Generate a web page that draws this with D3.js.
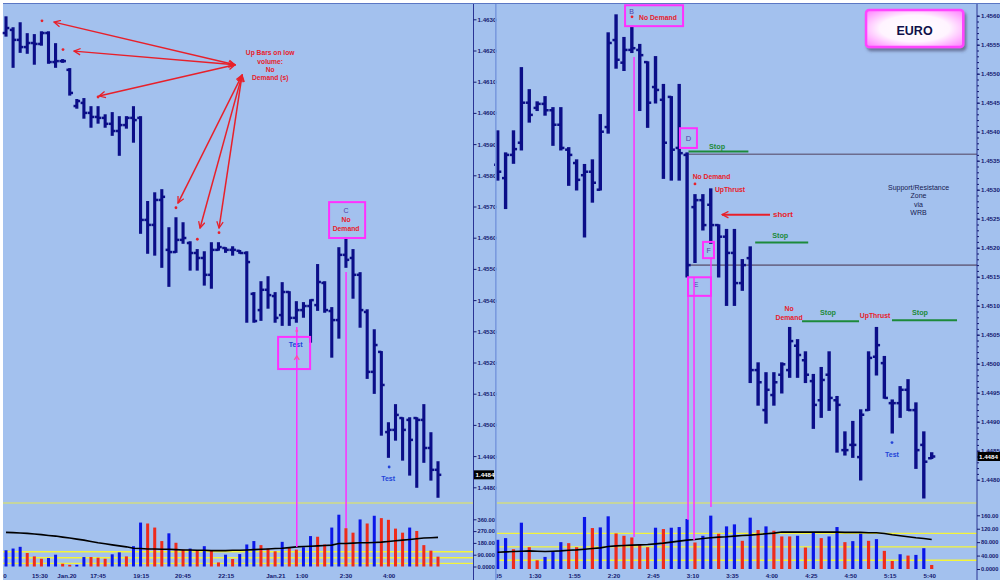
<!DOCTYPE html>
<html><head><meta charset="utf-8">
<script src="https://cdn.jsdelivr.net/npm/d3@7/dist/d3.min.js"></script>
<style>
html,body{margin:0;padding:0;background:#fff;}
svg{display:block;}
text{font-family:"Liberation Sans",Arial,Helvetica,sans-serif;}
</style></head><body>
<svg id="chart" width="1000" height="583"></svg>
<script>
// ---------------- LEFT PANEL DATA (15-min bars) ----------------
const leftOpen=[1.46256,1.46266,1.46234,1.46211,1.46224,1.46221,1.46256,1.46163,1.46166,1.46138,
1.46022,1.46032,1.46000,1.45987,1.45984,1.45965,1.45942,1.45961,1.45984,1.45984,
1.45657,1.45641,1.45721,1.45561,1.45554,1.45593,1.45583,1.45551,1.45535,1.45481,
1.45561,1.45567,1.45561,1.45558,1.45551,1.45420,1.45368,1.45433,1.45413,1.45352,
1.45426,1.45343,1.45368,1.45381,1.45384,1.45455,1.45365,1.45336,1.45545,1.45535,
1.45481,1.45362,1.45170,1.45234,1.44977,1.44984,1.45022,1.45016,1.45022,1.45016,
1.44926,1.44856];
const leftHigh=[1.46307,1.46272,1.46288,1.46253,1.46250,1.46259,1.46259,1.46221,1.46170,1.46141,
1.46042,1.46045,1.46019,1.46019,1.45993,1.46000,1.45987,1.45987,1.46019,1.45987,
1.45715,1.45743,1.45753,1.45631,1.45663,1.45647,1.45586,1.45561,1.45554,1.45583,
1.45583,1.45567,1.45570,1.45558,1.45554,1.45423,1.45458,1.45474,1.45423,1.45455,
1.45426,1.45394,1.45391,1.45400,1.45513,1.45458,1.45375,1.45567,1.45599,1.45561,
1.45487,1.45368,1.45304,1.45234,1.45006,1.45064,1.45022,1.45022,1.45022,1.45064,
1.44974,1.44881];
const leftLow=[1.46247,1.46147,1.46195,1.46192,1.46157,1.46218,1.46160,1.46147,1.46163,1.46058,
1.46016,1.45984,1.45955,1.45968,1.45955,1.45929,1.45865,1.45952,1.45907,1.45615,
1.45551,1.45545,1.45506,1.45445,1.45554,1.45583,1.45497,1.45497,1.45449,1.45439,
1.45561,1.45554,1.45545,1.45551,1.45330,1.45330,1.45336,1.45375,1.45330,1.45320,
1.45320,1.45330,1.45346,1.45266,1.45368,1.45362,1.45218,1.45279,1.45506,1.45407,
1.45314,1.45150,1.45102,1.44968,1.44897,1.44952,1.44888,1.44840,1.44801,1.44881,
1.44824,1.44769];
const leftClose=[1.46272,1.46234,1.46211,1.46224,1.46221,1.46256,1.46163,1.46166,1.46166,1.46064,
1.46038,1.46000,1.45987,1.45984,1.45965,1.45942,1.45961,1.45984,1.45977,1.45657,
1.45641,1.45721,1.45731,1.45554,1.45593,1.45599,1.45551,1.45535,1.45481,1.45561,
1.45570,1.45561,1.45561,1.45551,1.45522,1.45333,1.45433,1.45416,1.45343,1.45426,
1.45343,1.45368,1.45381,1.45400,1.45458,1.45368,1.45336,1.45545,1.45529,1.45481,
1.45368,1.45170,1.45256,1.45128,1.44984,1.45032,1.44984,1.44952,1.45016,1.44926,
1.44856,1.44840];
const leftVolume=[124,137,150,103,77,59,65,90,21,13,
13,72,72,67,59,93,108,77,155,335,
328,297,194,253,181,129,137,121,155,121,
31,90,57,95,168,194,163,137,116,188,
142,129,147,232,227,168,297,395,292,258,
359,328,387,369,356,289,258,297,271,163,
121,75];
const leftVolDir=("bbbrrrbbrr"+"bbrrrbbrbb"+"rrrbrrbrbr"+"rbrbbbrrrb"+"rrbbrrbbrr"+"brbrrrrbrr"+"rr").split("");
const leftVolAvg=[260,258,255,253,248,243,237,232,224,217,
209,201,191,181,173,165,157,150,139,137,
134,134,132,132,129,126,126,124,124,121,
121,121,124,124,126,129,132,134,137,139,
144,150,152,155,157,160,163,175,175,178,
181,181,183,186,191,196,201,206,212,217,
219,222];
const leftVolLevels=[113,67,24];
const leftPriceTicks=[1.4480,1.4490,1.4500,1.4510,1.4520,1.4530,1.4540,1.4550,1.4560,1.4570,1.4580,1.4590,1.4600,1.4610,1.4620,1.4630];
const leftVolTicks=[0,90,180,270,360];
const leftTimeLabels=["0","15:30","Jan.20","17:45","19:15","20:45","22:15","Jan.21","1:00","2:30","4:00"];
const leftTimeIdx=[-0.15,4.8,8.6,13,19.1,25,31.1,38.1,41.8,48,54.1];

// ---------------- RIGHT PANEL DATA (5-min bars) ----------------
const rightOpen=[1.45343,1.45320,1.45360,1.45381,1.45450,1.45441,1.45448,1.45437,1.45412,1.45369,
1.45346,1.45325,1.45331,1.45300,1.45408,1.45558,1.45519,1.45541,1.45541,1.45520,
1.45477,1.45455,1.45460,1.45372,1.45360,1.45270,1.45282,1.45274,1.45239,1.45219,
1.45191,1.45139,1.45182,1.44989,1.44920,1.44946,1.44981,1.44989,1.45031,1.45006,
1.44970,1.44937,1.44981,1.44937,1.44851,1.44860,1.44839,1.44920,1.45012,1.45001,
1.44932,1.44932,1.44955,1.44920,1.44860,1.44837];
const rightHigh=[1.45401,1.45363,1.45401,1.45510,1.45472,1.45451,1.45460,1.45441,1.45441,1.45372,
1.45351,1.45343,1.45351,1.45429,1.45570,1.45601,1.45562,1.45581,1.45550,1.45520,
1.45529,1.45481,1.45460,1.45481,1.45363,1.45291,1.45291,1.45301,1.45239,1.45231,
1.45231,1.45179,1.45201,1.45001,1.44984,1.44984,1.45001,1.45062,1.45041,1.45020,
1.44981,1.44993,1.45020,1.44943,1.44882,1.44900,1.44920,1.45020,1.45062,1.45012,
1.44937,1.44960,1.44972,1.44932,1.44882,1.44846];
const rightLow=[1.45317,1.45268,1.45346,1.45369,1.45417,1.45437,1.45429,1.45377,1.45369,1.45308,
1.45300,1.45219,1.45279,1.45300,1.45398,1.45510,1.45506,1.45537,1.45437,1.45408,
1.45450,1.45320,1.45317,1.45317,1.45150,1.45175,1.45231,1.45208,1.45150,1.45101,
1.45101,1.45127,1.44968,1.44929,1.44898,1.44929,1.44950,1.44977,1.44977,1.44968,
1.44889,1.44908,1.44920,1.44848,1.44843,1.44839,1.44800,1.44920,1.44981,1.44941,
1.44881,1.44908,1.44920,1.44820,1.44769,1.44837];
const rightClose=[1.45331,1.45360,1.45370,1.45450,1.45429,1.45448,1.45437,1.45412,1.45372,1.45360,
1.45317,1.45331,1.45312,1.45400,1.45553,1.45524,1.45541,1.45544,1.45532,1.45450,
1.45472,1.45381,1.45369,1.45363,1.45170,1.45282,1.45239,1.45239,1.45219,1.45191,
1.45139,1.45170,1.44989,1.44968,1.44955,1.44968,1.44999,1.45039,1.45015,1.44981,
1.44929,1.44972,1.44941,1.44929,1.44851,1.44860,1.44912,1.45010,1.45032,1.44941,
1.44932,1.44955,1.44920,1.44851,1.44831,1.44840];
const rightVolume=[87,92,59,138,65,26,36,52,80,77,
65,155,122,124,157,106,99,94,74,65,
123,119,123,125,149,79,99,159,105,127,
133,84,153,116,127,114,97,97,99,64,
108,92,97,125,80,83,105,84,89,54,
24,44,40,42,62,12];
const rightVolDir=("bbrbrrbbbr"+"rbrbbrrrrr"+"brbbbrbbrb"+"brbrbrrrbr"+"brbbrbbrbr"+"rbrbbr").split("");
const rightVolAvg=[50,51,52,53,54,53,52,53,54,56,57,59,61,63,67,69,70,71,72,73,75,77,80,83,86,88,91,93,95,96,98,100,101,103,105,107,110,
110,110,110,110,110,110,110,109,109,109,108,108,106,102,99,96,93,91,88];
const rightVolLevels=[106,66,26];
const rightPriceTicks=[1.4480,1.4485,1.4490,1.4495,1.4500,1.4505,1.4510,1.4515,1.4520,1.4525,1.4530,1.4535,1.4540,1.4545,1.4550,1.4555,1.4560];
const rightVolTicks=[0,40,80,120,160];
const rightTimeLabels=["1:05","1:30","1:55","2:20","2:45","3:10","3:35","4:00","4:25","4:50","5:15","5:40"];
const rightTimeIdx=[0,5,10,15,20,25,30,35,40,45,50,55];
const lastPrice=1.4484;

// ---------------- DRAWING ----------------
const svg=d3.select('#chart');
const BG='#a3c1ee',NAVY='#0b0e88',VBLUE='#0a16e8',VRED='#ee2b1c',MAG='#ff30ff',RED='#e8202a',GREEN='#1c8a3a',AX='#141a70',PURP='#5040a8',TBLUE='#2444d8';

svg.append('rect').attr('width',1000).attr('height',583).attr('fill','#fff');
svg.append('rect').attr('x',3).attr('y',4).attr('width',997).attr('height',576).attr('fill',BG);
svg.append('line').attr('x1',3).attr('x2',1000).attr('y1',3.5).attr('y2',3.5).attr('stroke','#5b77c4').attr('stroke-width',1);

const defs=svg.append('defs');
defs.append('marker').attr('id','arr').attr('viewBox','0 0 10 10').attr('refX',9).attr('refY',5)
  .attr('markerWidth',8).attr('markerHeight',8).attr('markerUnits','userSpaceOnUse').attr('orient','auto-start-reverse')
  .append('path').attr('d','M1,1 L9,5 L1,9').attr('fill','none').attr('stroke',RED).attr('stroke-width',1.6);
defs.append('clipPath').attr('id','rclip').append('rect').attr('x',496.5).attr('y',0).attr('width',504).attr('height',583);
const rg=defs.append('radialGradient').attr('id','euroGrad').attr('cx','50%').attr('cy','50%').attr('r','65%');
rg.append('stop').attr('offset','0%').attr('stop-color','#ffffff');
rg.append('stop').attr('offset','55%').attr('stop-color','#fff4ff');
rg.append('stop').attr('offset','100%').attr('stop-color','#ff8cff');
const fl=defs.append('filter').attr('id','sh').attr('x','-20%').attr('y','-20%').attr('width','150%').attr('height','160%');
fl.append('feDropShadow').attr('dx',2).attr('dy',3).attr('stdDeviation',1.5).attr('flood-color','#404060').attr('flood-opacity',0.6);

function drawPanel(P){
  const g=svg.append('g');
  const n=P.open.length;
  const x=d3.scaleLinear().domain([0,n-1]).range(P.xRange);
  const y=d3.scaleLinear().domain([1.4480,P.pTop]).range(P.pRange);
  const yv=d3.scaleLinear().domain([0,P.vTop]).range(P.vRange);
  g.append('line').attr('x1',P.plotX[0]).attr('x2',P.plotX[1]).attr('y1',503).attr('y2',503).attr('stroke','#e8ea50').attr('stroke-width',1.2);
  g.selectAll('line.lvl').data(P.levels).join('line').attr('class','lvl')
    .attr('x1',P.plotX[0]).attr('x2',P.plotX[1]).attr('y1',d=>yv(d)).attr('y2',d=>yv(d))
    .attr('stroke','#f4f43a').attr('stroke-width',1.4);
  g.selectAll('rect.vb').data(P.vol).join('rect').attr('class','vb')
    .attr('x',(d,i)=>x(i)-P.vw/2).attr('y',d=>yv(d)).attr('width',P.vw).attr('height',d=>yv(0)-yv(d))
    .attr('fill',(d,i)=>P.dir[i]==='b'?VBLUE:VRED);
  g.append('path').datum(P.ma).attr('d',d3.line().x((d,i)=>x(i)).y(d=>yv(d)))
    .attr('fill','none').attr('stroke','#000').attr('stroke-width',1.6);
  if(P.before) P.before(g,x,y,yv);
  const bd=P.open.map((v,i)=>({i,o:v,h:P.high[i],l:P.low[i],c:P.close[i]}));
  const bars=g.selectAll('g.bar').data(bd).join('g').attr('class','bar');
  bars.append('line').attr('x1',d=>x(d.i)).attr('x2',d=>x(d.i))
    .attr('y1',d=>y(d.h)-0.8).attr('y2',d=>y(d.l)+0.8).attr('stroke',NAVY).attr('stroke-width',P.bw);
  bars.append('line').attr('x1',d=>x(d.i)-P.tk).attr('x2',d=>x(d.i)).attr('y1',d=>y(d.o)).attr('y2',d=>y(d.o))
    .attr('stroke',NAVY).attr('stroke-width',2.5);
  bars.append('line').attr('x1',d=>x(d.i)).attr('x2',d=>x(d.i)+P.tk).attr('y1',d=>y(d.c)).attr('y2',d=>y(d.c))
    .attr('stroke',NAVY).attr('stroke-width',2.5);
  g.append('line').attr('x1',P.axisX).attr('x2',P.axisX).attr('y1',4).attr('y2',580).attr('stroke','#2a3494').attr('stroke-width',1);
  const pa=g.append('g').attr('transform',`translate(${P.axisX},0)`)
    .call(d3.axisRight(y).tickValues(P.pTicks).tickFormat(d3.format('.4f')).tickSize(3).tickPadding(1));
  if(P.minor){
    const mn=d3.range(14480,Math.round(P.pTop*10000)+1).map(v=>v/10000);
    g.append('g').attr('transform',`translate(${P.axisX},0)`)
      .call(d3.axisRight(y).tickValues(mn).tickFormat('').tickSize(2))
      .call(s=>{s.select('.domain').remove();s.selectAll('line').attr('stroke',AX);});
  }
  const va=g.append('g').attr('transform',`translate(${P.axisX},0)`)
    .call(d3.axisRight(yv).tickValues(P.vTicks).tickFormat(v=>v.toPrecision(5)).tickSize(3).tickPadding(1));
  [pa,va].forEach(a=>{
    a.select('.domain').remove();
    a.attr('font-family','"Liberation Sans",Arial,sans-serif').attr('font-size',6.2).attr('font-weight','bold');
    a.selectAll('line').attr('stroke',AX);
    a.selectAll('text').attr('fill',AX);
  });
  va.selectAll('text').attr('font-size',5.7);
  const tg=g.append('g'); if(P.clip) tg.attr('clip-path','url(#'+P.clip+')');
  tg.selectAll('text').data(P.tLabels).join('text')
    .attr('x',(d,i)=>x(P.tIdx[i])-2).attr('y',578).attr('text-anchor','middle')
    .attr('font-size',6.2).attr('font-weight','bold').attr('fill',AX).text(d=>d);
  g.append('rect').attr('x',P.axisX+0.5).attr('y',y(lastPrice)-4.5).attr('width',P.boxW).attr('height',9).attr('fill','#000');
  g.append('text').attr('x',P.axisX+2).attr('y',y(lastPrice)+2.2).attr('font-size',6.2).attr('font-weight','bold')
    .attr('fill','#fff').text(d3.format('.4f')(lastPrice));
  return {x,y,yv};
}

const L=drawPanel({open:leftOpen,high:leftHigh,low:leftLow,close:leftClose,vol:leftVolume,dir:leftVolDir,ma:leftVolAvg,
  levels:leftVolLevels,pTicks:leftPriceTicks,vTicks:leftVolTicks,tLabels:leftTimeLabels,tIdx:leftTimeIdx.map(v=>v+0.28),
  xRange:[6,438],pTop:1.4630,pRange:[487.3,19.3],vTop:360,vRange:[566.5,519.3],plotX:[3,473],axisX:473.5,
  vw:3,bw:3.1,tk:3.3,boxW:20,minor:false});

const R=drawPanel({open:rightOpen,high:rightHigh,low:rightLow,close:rightClose,vol:rightVolume,dir:rightVolDir,ma:rightVolAvg,
  levels:rightVolLevels,pTicks:rightPriceTicks,vTicks:rightVolTicks,tLabels:rightTimeLabels,tIdx:rightTimeIdx,
  xRange:[497.7,931.7],pTop:1.4560,pRange:[479.7,15.7],vTop:160,vRange:[569,515.3],plotX:[497,977],axisX:977,
  vw:3.2,bw:3.4,tk:3.6,boxW:23,minor:true,clip:'rclip',
  before:(g,x,y)=>{
    [1.45361,1.45170].forEach(p=>g.append('line').attr('x1',x(24.18)).attr('x2',977).attr('y1',y(p)).attr('y2',y(p))
      .attr('stroke','#6c6c8e').attr('stroke-width',1.6));
  }});

svg.append('rect').attr('x',495).attr('y',4).attr('width',1.6).attr('height',576).attr('fill','#7a9ade');

function txt(x,y,s,fill,size,weight,anchor){
  svg.append('text').attr('x',x).attr('y',y).attr('fill',fill).attr('font-size',size)
    .attr('font-weight',weight||'bold').attr('text-anchor',anchor||'middle').text(s);
}
function box(S,i0,i1,p0,p1,w){
  svg.append('rect').attr('x',S.x(i0)).attr('y',S.y(p0)).attr('width',S.x(i1)-S.x(i0)).attr('height',S.y(p1)-S.y(p0))
    .attr('fill','none').attr('stroke',MAG).attr('stroke-width',w||2);
}
function vline(S,i,p,v){
  svg.append('line').attr('x1',S.x(i)).attr('x2',S.x(i)).attr('y1',S.y(p)).attr('y2',S.yv(v)).attr('stroke',MAG).attr('stroke-width',1.5);
}
function dot(S,i,p,c){svg.append('circle').attr('cx',S.x(i)).attr('cy',S.y(p)).attr('r',1.4).attr('fill',c);}
function hline(S,i0,i1,p,c,w){svg.append('line').attr('x1',S.x(i0)).attr('x2',S.x(i1)).attr('y1',S.y(p)).attr('y2',S.y(p)).attr('stroke',c).attr('stroke-width',w);}

// -------- left annotations --------
const noteL=["Up Bars on low","volume:","No","Demand (s)"];
const noteLp=[1.46186,1.46158,1.46131,1.46104];
noteL.forEach((s,k)=>txt(L.x(37.3),L.y(noteLp[k]),s,RED,6.7));
const arrowsL=[[32.34,1.46154,6.78,1.46291],[32.34,1.46154,9.6,1.46198],[32.34,1.46154,13.14,1.46054],
  [33.33,1.46121,24.29,1.45711],[33.33,1.46121,27.4,1.45631],[33.33,1.46121,30.08,1.45631]];
arrowsL.forEach(a=>svg.append('line').attr('x1',L.x(a[0])).attr('y1',L.y(a[1])).attr('x2',L.x(a[2])).attr('y2',L.y(a[3]))
  .attr('stroke',RED).attr('stroke-width',1.5).attr('marker-end','url(#arr)').attr('marker-start','url(#arr)'));
[[5.08,1.46295],[8.05,1.46203],[13.0,1.46051],[24.0,1.45696],[27.02,1.45595],[30.08,1.45616]].forEach(d=>dot(L,d[0],d[1],RED));
box(L,45.62,50.71,1.45714,1.45599);
txt(L.x(48.02),L.y(1.45679),"C",PURP,7,'normal');
txt(L.x(48.02),L.y(1.45649),"No",RED,6.8);
txt(L.x(48.02),L.y(1.45621),"Demand",RED,6.8);
box(L,38.42,42.94,1.45282,1.45179);
txt(L.x(40.89),L.y(1.45250),"Test",TBLUE,7);
vline(L,41.06,1.45314,149);
vline(L,48.02,1.45490,294);
svg.append('path').attr('d',`M${L.x(41.06)-2.5},${L.y(1.45218)+3} L${L.x(41.06)},${L.y(1.45218)-1} L${L.x(41.06)+2.5},${L.y(1.45218)+3}`)
  .attr('fill','none').attr('stroke','#ff50a0').attr('stroke-width',1.2);
dot(L,41.06,1.45301,'#ff50c0');
txt(L.x(53.95),L.y(1.44820),"Test",TBLUE,7);
dot(L,54.1,1.44865,TBLUE);

// -------- right annotations --------
box(R,16.14,23.49,1.45618,1.45582);
txt(R.x(16.98),R.y(1.45603),"B",PURP,7,'normal');
dot(R,17.02,1.45598,RED);
txt(R.x(17.91),R.y(1.45593),"No Demand",RED,6.8,'bold','start');
vline(R,17.28,1.45529,95);
box(R,23.1,25.25,1.45406,1.45372);
txt(R.x(24.18),R.y(1.45384),"D",PURP,7.5,'normal');
hline(R,24.18,31.77,1.45366,GREEN,2);
txt(R.x(27.8),R.y(1.45371),"Stop",GREEN,7.2);
txt(R.x(27.1),R.y(1.45318),"No Demand",RED,6.8);
dot(R,25.0,1.45310,RED);
txt(R.x(29.44),R.y(1.45296),"UpThrust",RED,6.8);
svg.append('line').attr('x1',R.x(34.51)).attr('x2',R.x(28.43)).attr('y1',R.y(1.45257)).attr('y2',R.y(1.45257))
  .attr('stroke',RED).attr('stroke-width',2).attr('marker-end','url(#arr)');
txt(R.x(36.16),R.y(1.45253),"short",RED,8);
box(R,26.02,27.41,1.45210,1.45182);
txt(R.x(26.72),R.y(1.45191),"F",PURP,7,'normal');
box(R,24.12,27.03,1.45149,1.45117);
txt(R.x(25.13),R.y(1.45132),"E",PURP,7,'normal');
vline(R,24.12,1.45149,146);
vline(R,24.88,1.45149,86);
vline(R,27.03,1.45182,185);
hline(R,32.63,39.35,1.45209,GREEN,2);
txt(R.x(35.8),R.y(1.45217),"Stop",GREEN,7.2);
txt(R.x(36.92),R.y(1.45091),"No",RED,6.9);
txt(R.x(36.92),R.y(1.45075),"Demand",RED,6.9);
hline(R,38.57,45.79,1.45073,GREEN,2);
txt(R.x(41.86),R.y(1.45084),"Stop",GREEN,7.2);
txt(R.x(47.82),R.y(1.45079),"UpThrust",RED,6.9);
hline(R,49.97,58.21,1.45075,GREEN,2);
txt(R.x(53.52),R.y(1.45084),"Stop",GREEN,7.2);
txt(R.x(49.97),R.y(1.44839),"Test",TBLUE,7);
dot(R,49.97,1.44864,TBLUE);
const srNote=["Support/Resistance","Zone","via","WRB"];
const srNoteP=[1.45299,1.45285,1.45271,1.45256];
srNote.forEach((s,k)=>txt(R.x(53.33),R.y(srNoteP[k]),s,'#161a50',7,'normal'));
svg.append('rect').attr('x',R.x(46.68)).attr('y',R.y(1.45610)).attr('width',R.x(59.0)-R.x(46.68)).attr('height',R.y(1.45546)-R.y(1.45610))
  .attr('rx',3).attr('fill','url(#euroGrad)').attr('stroke','#ff44ff').attr('stroke-width',2.5).attr('filter','url(#sh)');
txt(R.x(52.83),R.y(1.45566),"EURO",'#10104a',12.5);
</script>
</body></html>
